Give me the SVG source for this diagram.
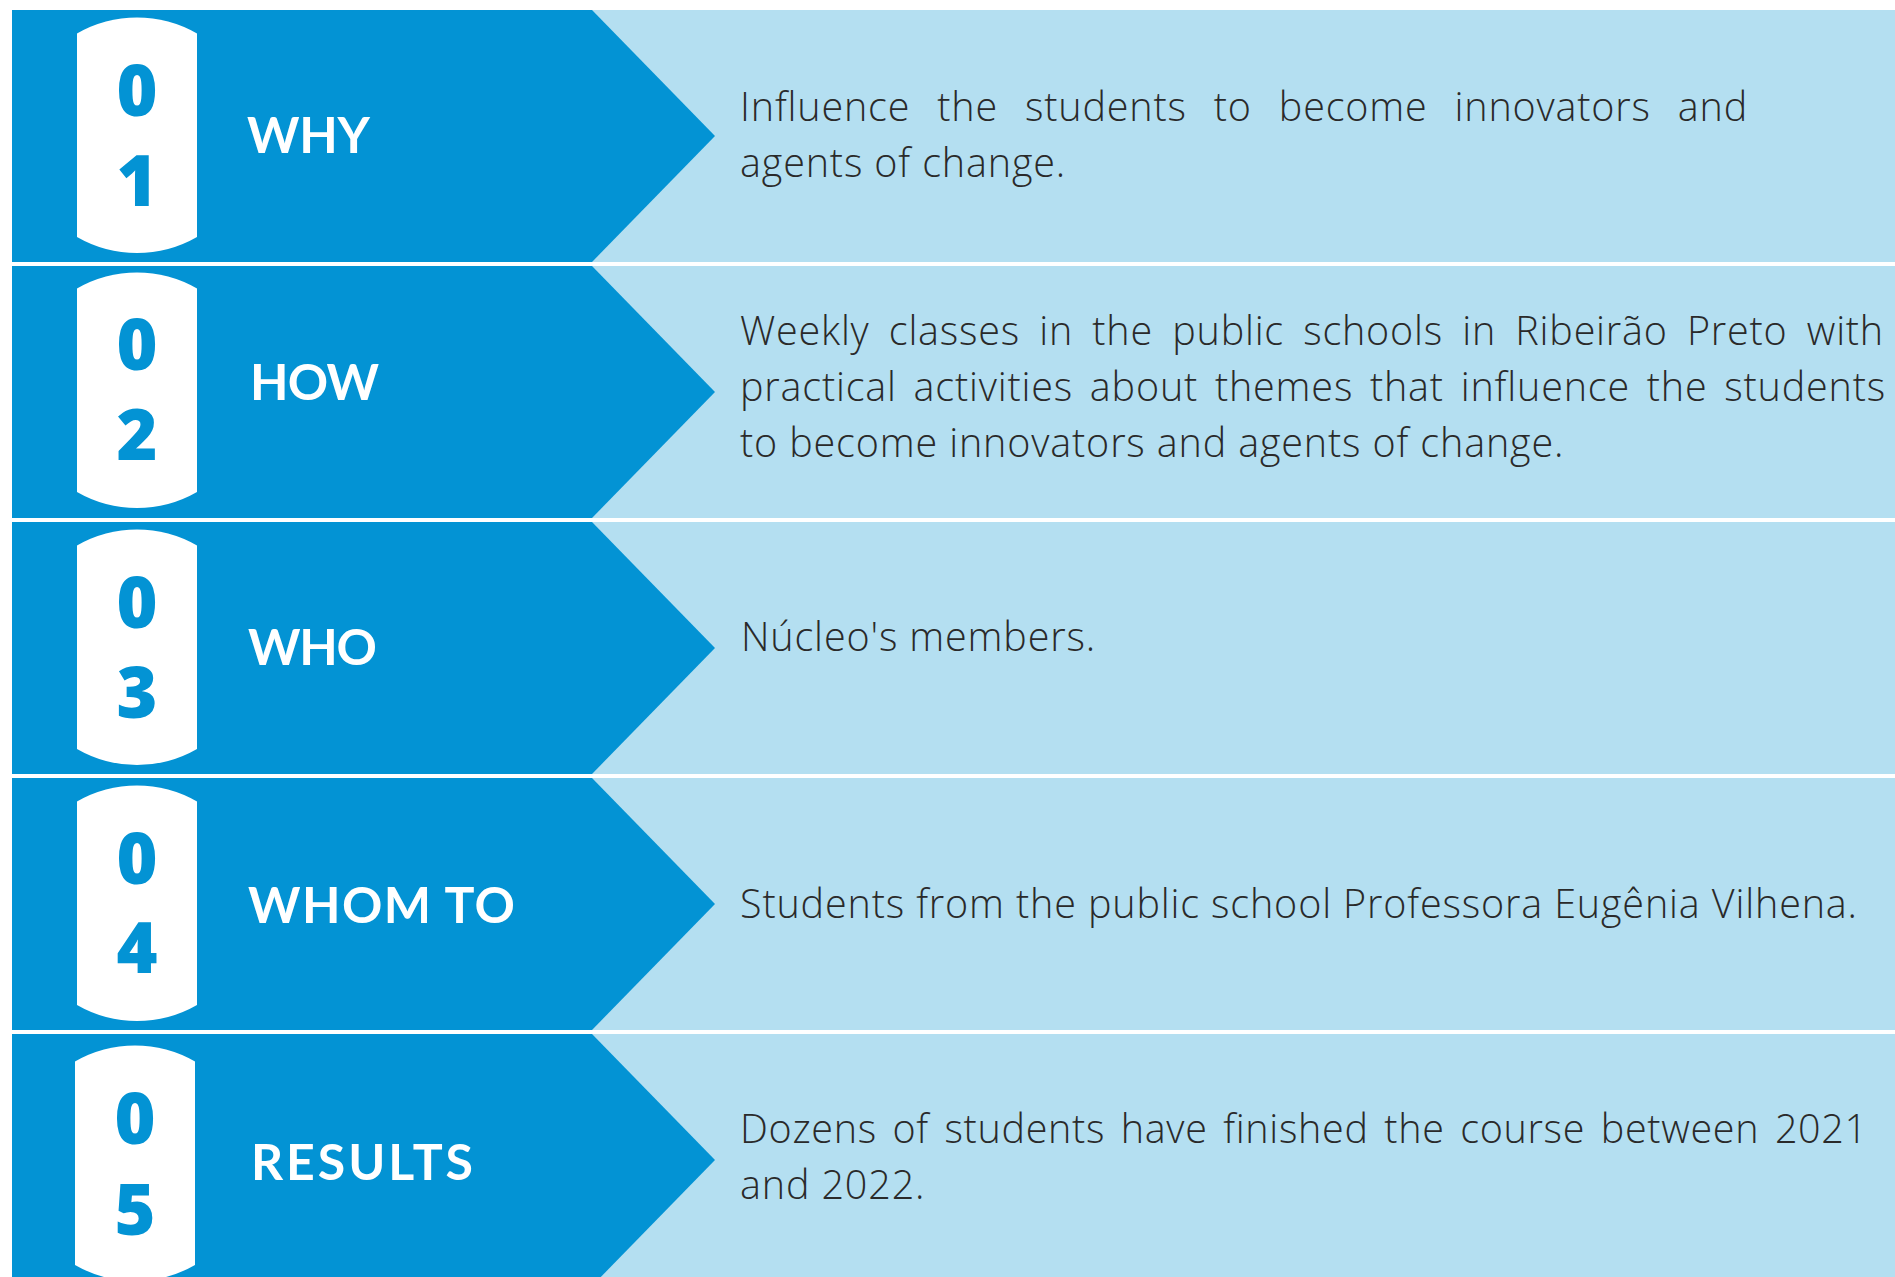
<svg xmlns="http://www.w3.org/2000/svg" width="1895" height="1277" viewBox="0 0 1895 1277">
<defs>
<style>
.light{fill:#B4DFF1}
.dark{fill:#0393D4}
.pill{fill:#FFFFFF}
.dig{font-family:"Open Sans","Liberation Sans",sans-serif;font-weight:800;font-size:70px;fill:#0393D4;text-anchor:middle}
.ttl{font-family:Lato,"Liberation Sans",sans-serif;font-weight:700;font-size:50px;fill:#FFFFFF}
.body{font-family:"Open Sans","Liberation Sans",sans-serif;font-weight:300;font-size:39.5px;letter-spacing:0.85px;fill:#2A2A2A}
</style>
<path id="pillShape" d="M77,23.5 A120,120 0 0 1 197,23.5 L197,227 A120,120 0 0 1 77,227 Z"/>
<path id="arrowShape" d="M12,0 L592,0 L715,126 L592,252 L12,252 Z"/>
</defs>
<rect width="1895" height="1277" fill="#FFFFFF"/>
<g id="connectors"/>

<g id="node-01">
<rect class="light" x="592" y="10" width="1303" height="252"/>
<use href="#arrowShape" class="dark" transform="translate(0,10)"/>
<use href="#pillShape" class="pill" transform="translate(0,10)"/>
<text class="dig" x="137" y="116">0</text>
<text class="dig" x="137" y="206">1</text>
<text class="ttl" x="247" y="153" textLength="123" lengthAdjust="spacing">WHY</text>
<text class="body" x="740" y="121" word-spacing="16" textLength="1008" lengthAdjust="spacing"><tspan>Influence</tspan> <tspan>the</tspan> <tspan>students</tspan> <tspan>to</tspan> <tspan>become</tspan> <tspan>innovators</tspan> <tspan>and</tspan></text>
<text class="body" x="740" y="177"><tspan>agents</tspan> <tspan>of</tspan> <tspan>change.</tspan></text>
</g>

<g id="node-02">
<rect class="light" x="592" y="266" width="1303" height="252"/>
<use href="#arrowShape" class="dark" transform="translate(0,266)"/>
<use href="#pillShape" class="pill" transform="translate(0,265)"/>
<text class="dig" x="137" y="370">0</text>
<text class="dig" x="137" y="460">2</text>
<text class="ttl" x="250" y="400" textLength="129" lengthAdjust="spacing">HOW</text>
<text class="body" x="740" y="345" word-spacing="8.3" textLength="1144" lengthAdjust="spacing"><tspan>Weekly</tspan> <tspan>classes</tspan> <tspan>in</tspan> <tspan>the</tspan> <tspan>public</tspan> <tspan>schools</tspan> <tspan>in</tspan> <tspan>Ribeirão</tspan> <tspan>Preto</tspan> <tspan>with</tspan></text>
<text class="body" x="740" y="401" word-spacing="5.7" textLength="1146" lengthAdjust="spacing"><tspan>practical</tspan> <tspan>activities</tspan> <tspan>about</tspan> <tspan>themes</tspan> <tspan>that</tspan> <tspan>influence</tspan> <tspan>the</tspan> <tspan>students</tspan></text>
<text class="body" x="740" y="457"><tspan>to</tspan> <tspan>become</tspan> <tspan>innovators</tspan> <tspan>and</tspan> <tspan>agents</tspan> <tspan>of</tspan> <tspan>change.</tspan></text>
</g>

<g id="node-03">
<rect class="light" x="592" y="522" width="1303" height="252"/>
<use href="#arrowShape" class="dark" transform="translate(0,522)"/>
<use href="#pillShape" class="pill" transform="translate(0,522)"/>
<text class="dig" x="137" y="628">0</text>
<text class="dig" x="137" y="718">3</text>
<text class="ttl" x="248" y="665" textLength="129" lengthAdjust="spacing">WHO</text>
<text class="body" x="741" y="651"><tspan>Núcleo's</tspan> <tspan>members.</tspan></text>
</g>

<g id="node-04">
<rect class="light" x="592" y="778" width="1303" height="252"/>
<use href="#arrowShape" class="dark" transform="translate(0,778)"/>
<use href="#pillShape" class="pill" transform="translate(0,778)"/>
<text class="dig" x="137" y="884">0</text>
<text class="dig" x="137" y="973">4</text>
<text class="ttl" x="248" y="923" textLength="267" lengthAdjust="spacing">WHOM TO</text>
<text class="body" x="740" y="918"><tspan>Students</tspan> <tspan>from</tspan> <tspan>the</tspan> <tspan>public</tspan> <tspan>school</tspan> <tspan>Professora</tspan> <tspan>Eugênia</tspan> <tspan>Vilhena.</tspan></text>
</g>

<g id="node-05">
<rect class="light" x="592" y="1034" width="1303" height="252"/>
<use href="#arrowShape" class="dark" transform="translate(0,1034)"/>
<use href="#pillShape" class="pill" transform="translate(-2,1038)"/>
<text class="dig" x="135" y="1144">0</text>
<text class="dig" x="135" y="1235">5</text>
<text class="ttl" x="251" y="1180" textLength="222" lengthAdjust="spacing">RESULTS</text>
<text class="body" x="740" y="1143" word-spacing="4.7" textLength="1128" lengthAdjust="spacing"><tspan>Dozens</tspan> <tspan>of</tspan> <tspan>students</tspan> <tspan>have</tspan> <tspan>finished</tspan> <tspan>the</tspan> <tspan>course</tspan> <tspan>between</tspan> <tspan>2021</tspan></text>
<text class="body" x="740" y="1199"><tspan>and</tspan> <tspan>2022.</tspan></text>
</g>
</svg>
